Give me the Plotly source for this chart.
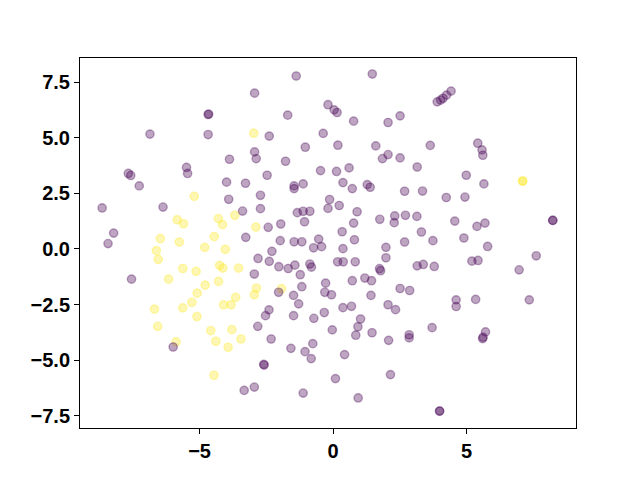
import plotly.graph_objects as go

# class 0 (purple) points
x0 = [-4.68, -4.66, -6.86, -4.68, -3.88, -7.67, -7.58, -5.49, -5.45, -7.26, -3.99, -3.28,
      -8.65, -6.37, -3.91, -3.39, -8.22, -8.43, -3.27, -1.38, 1.47, -2.94, -0.19, 0.04, 0.15,
      -1.70, 0.77, 2.06, 2.51, -2.39, -0.37, -1.04, 0.18, 1.60, -2.94, -2.88, -1.78, 1.85, 2.06,
      2.51, -0.47, 0.13, 0.60, 3.15, -2.47, -1.46, -1.46, -1.12, 0.37, 0.72, 1.28, 1.39, 2.68,
      -2.72, -0.13, -0.19, 0.23, -2.72, -1.34, -1.12, -0.87, 0.90, -1.07, 0.77, 1.75, 2.31, 2.29,
      2.71, 3.14, -2.43, -1.96, 0.34, -0.54, 0.80, -1.98, -1.46, -1.17, 2.68, -0.73, -0.43, 0.37,
      1.98, -2.29, -2.81, -2.39, -2.03, -1.68, -1.43, -0.87, -0.81, 0.17, 0.38, 0.83, 1.98, 1.74,
      1.78, 3.15, 3.38, 3.79, -2.95, -1.23, 0.72, 1.19, 1.44, -2.04, -1.17, -0.28, -0.31, -0.06,
      -1.48, -1.29, 1.42, 2.51, 2.87, 2.06, 2.34, 0.37, 0.69, -2.40, -2.53, -1.48, -0.72, -0.33,
      1.03, 0.93, 0.85, -0.03, 1.46, -2.82, -2.32, 2.08, 2.85, 2.85, -1.58, -1.05, -0.82, -0.76,
      0.43, -2.60, -2.58, -2.95, -3.33, 0.09, 2.15, -1.12, 0.94, 3.90, 4.03, 4.12, 4.25, 4.42,
      3.64, 5.42, 5.58, 5.61, 4.99, 5.65, 3.35, 4.24, 4.94, 4.56, 5.39, 5.69, 8.23, 8.23, 3.31,
      3.74, 4.90, 5.79, 5.20, 5.43, 7.61, 6.97, 4.61, 4.61, 5.34, 7.35, 3.71, 5.71, 5.62, 5.60,
      3.99, 3.99, -7.55, -5.99]
y0 = [6.04, 6.06, 5.16, 5.14, 4.03, 3.39, 3.30, 3.66, 3.39, 2.83, 3.00, 2.95,
      1.84, 1.88, 2.23, 1.70, 0.71, 0.24, 0.52, 7.77, 7.86, 7.00, 6.48, 6.25, 6.13,
      6.01, 5.74, 5.68, 5.98, 5.07, 5.19, 4.57, 4.66, 4.63, 4.36, 4.06, 3.94, 4.06, 4.24,
      4.09, 3.52, 3.48, 3.64, 3.68, 3.31, 2.83, 2.71, 2.92, 2.98, 2.71, 2.89, 2.77, 2.59,
      2.41, 2.22, 1.82, 1.95, 1.81, 1.63, 1.69, 1.69, 1.67, 1.22, 1.16, 1.33, 1.48, 1.18,
      1.51, 1.46, 0.97, 1.12, 0.77, 0.44, 0.41, 0.37, 0.32, 0.32, 0.31, 0.05, 0.10, 0.01,
      0.07, -0.11, -0.43, -0.56, -0.80, -0.88, -0.73, -0.68, -0.82, -0.58, -0.58, -0.58, -0.40, -0.89,
      -0.98, -0.76, -0.70, -0.79, -1.13, -1.16, -1.43, -1.31, -1.43, -1.95, -1.70, -1.54, -1.95, -2.06,
      -2.09, -2.47, -2.09, -1.78, -1.87, -2.51, -2.73, -2.64, -2.58, -2.74, -3.00, -3.00, -3.12, -2.86,
      -3.15, -3.50, -3.88, -3.64, -3.77, -3.48, -4.05, -4.11, -3.86, -4.00, -4.47, -4.62, -4.93, -4.26,
      -4.75, -5.19, -5.22, -6.21, -6.36, -5.83, -5.65, -6.48, -6.70, 6.61, 6.69, 6.77, 6.91, 7.09,
      4.65, 4.75, 4.45, 4.21, 3.31, 2.92, 2.60, 2.31, 2.33, 1.25, 1.01, 1.16, 1.28, 1.28, 0.76,
      0.37, 0.49, 0.11, -0.55, -0.52, -0.31, -0.94, -2.29, -2.59, -2.27, -2.29, -3.54, -3.73, -3.97, -4.03,
      -7.29, -7.29, -1.36, -4.41]

# class 1 (yellow) points
x1 = [-2.97, -5.20, -5.84, -5.60, -4.30, -4.14, -3.68, -6.47, -5.76, -4.45, -2.89, -4.81,
      -4.04, -6.62, -6.55, -5.63, -5.13, -4.25, -4.13, -3.54, -6.16, -4.79, -4.29, -5.09,
      -5.29, -5.63, -6.69, -5.10, -4.10, -3.82, -3.65, -6.57, -5.88, -4.58, -4.39, -3.79,
      -3.93, -3.45, -4.46, -2.87, -2.95, -1.93, 7.10, 7.10]
y1 = [5.20, 2.36, 1.31, 1.13, 1.36, 1.09, 1.51, 0.46, 0.31, 0.55, 0.98, 0.07,
      -0.02, -0.08, -0.47, -0.88, -1.01, -0.74, -0.86, -0.86, -1.36, -1.63, -1.46, -1.99,
      -2.40, -2.65, -2.71, -3.04, -2.51, -2.51, -2.18, -3.48, -4.18, -3.67, -4.15, -3.63,
      -4.42, -4.05, -5.68, -1.76, -2.06, -1.79, 3.05, 3.05]

xtick_vals = [-5, 0, 5]
xtick_text = ["\u22125", "0", "5"]
ytick_vals = [-7.5, -5.0, -2.5, 0.0, 2.5, 5.0, 7.5]
ytick_text = ["\u22127.5", "\u22125.0", "\u22122.5", "0.0", "2.5", "5.0", "7.5"]

ALPHA = 0.35
purple = f"rgba(68,1,84,{ALPHA})"
yellow = f"rgba(253,231,37,{ALPHA})"

xs = x1 + x0
ys = y1 + y0
cols = [yellow] * len(x1) + [purple] * len(x0)

fig = go.Figure(go.Scatter(
    x=xs, y=ys, mode="markers",
    marker=dict(size=8.3, color=cols, line=dict(color=cols, width=1.4)),
    hoverinfo="skip",
))

FONT = "Liberation Sans, Arial, sans-serif"
axis_common = dict(
    showgrid=False, zeroline=False, showline=True, linecolor="black", linewidth=1,
    mirror=True, ticks="outside", ticklen=5, tickwidth=1, tickcolor="black",
    tickfont=dict(family=FONT, size=20, color="black", weight="bold"),
)

# the page body adds an 8px offset, so margins are reduced accordingly
fig.update_layout(
    width=640, height=480, autosize=False,
    margin=dict(l=72, r=72, t=50, b=60),
    plot_bgcolor="white", paper_bgcolor="white",
    showlegend=False,
    font=dict(family=FONT, size=20, color="black"),
    xaxis=dict(range=[-9.48, 9.10], tickvals=xtick_vals, ticktext=xtick_text, **axis_common),
    yaxis=dict(range=[-8.05, 8.58], tickvals=ytick_vals, ticktext=ytick_text, **axis_common),
)

fig.write_html("out.html")
